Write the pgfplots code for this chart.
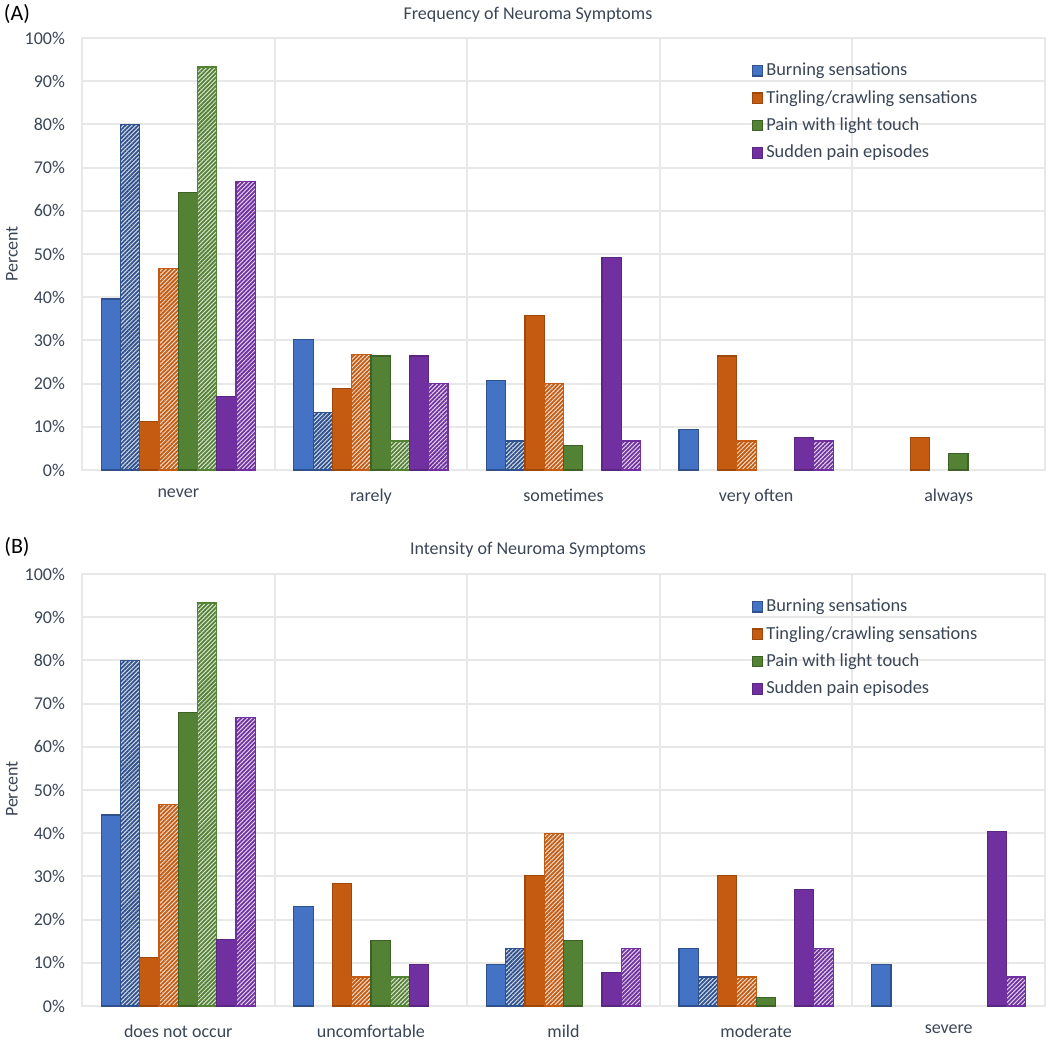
\documentclass[border=0pt]{standalone}
\usepackage{fontspec}
\setmainfont{Carlito}
\usepackage{pgfplots}
\pgfplotsset{compat=1.18}
\usetikzlibrary{patterns.meta}
\definecolor{cB}{HTML}{4472C4}\definecolor{cBd}{HTML}{2F528F}
\definecolor{cO}{HTML}{C55A11}\definecolor{cOd}{HTML}{9E480E}
\definecolor{cG}{HTML}{548235}\definecolor{cGd}{HTML}{3D6126}
\definecolor{cP}{HTML}{7030A0}\definecolor{cPd}{HTML}{5A2680}
\definecolor{gridc}{HTML}{E8E8E8}
\definecolor{textc}{HTML}{3A4556}
\pgfplotsset{
 solidbar/.style 2 args={fill=#1, draw=#2, line width=0.6pt},
 hatchbar/.style 2 args={fill=#1!18!white, draw=#2, line width=0.6pt,
   postaction={pattern={Lines[angle=45,distance=1.5pt,line width=0.9pt]}, pattern color=#1}},
 myaxis/.style={
  scale only axis, width=481.5pt, height=216pt, anchor=south west,
  ybar, bar width=0.1,
  xmin=-0.5, xmax=4.5, ymin=0, ymax=100,
  xtick={0,1,2,3,4},
  minor xtick={-0.5,0.5,1.5,2.5,3.5,4.5},
  xminorgrids=true, ymajorgrids=true,
  ytick={0,10,...,100},
  yticklabels={0\%,10\%,20\%,30\%,40\%,50\%,60\%,70\%,80\%,90\%,100\%},
  major tick length=0pt, minor tick length=0pt,
  grid style={draw=gridc, line width=1pt},
  minor grid style={draw=gridc, line width=1pt},
  axis line style={draw=gridc, line width=1pt},
  tick label style={font=\fontsize{9}{10}\selectfont, text=textc},
  yticklabel style={xshift=-5pt},
  xticklabel style={yshift=-6pt},
  legend style={at={(0.695,0.95)}, anchor=north west, draw=none, fill=none,
    font=\fontsize{9.2}{11}\selectfont, text=textc, row sep=2.8pt, inner sep=0pt,
    nodes={inner sep=1.5pt}},
  legend cell align=left,
  legend image code/.code={\draw[#1] (0pt,-2.6pt) rectangle (5.2pt,2.6pt);},
 }
}
\begin{document}
\begin{tikzpicture}
\path[use as bounding box] (0,0) rectangle (525pt,-520pt);
% Panel A
\begin{axis}[myaxis, at={(41pt,-235pt)},
  xticklabels={never,rarely,sometimes,very often,always}]
\addplot[solidbar={cB}{cBd}, bar shift=-0.35] coordinates {(0,39.6) (1,30.2) (2,20.8) (3,9.4)};
\addlegendentry{Burning sensations}
\addplot[hatchbar={cBd}{cBd}, bar shift=-0.25, forget plot] coordinates {(0,80) (1,13.3) (2,6.7)};
\addplot[solidbar={cO}{cOd}, bar shift=-0.15] coordinates {(0,11.3) (1,18.9) (2,35.8) (3,26.4) (4,7.5)};
\addlegendentry{Tingling/crawling sensations}
\addplot[hatchbar={cO}{cO}, bar shift=-0.05, forget plot] coordinates {(0,46.7) (1,26.7) (2,20) (3,6.7)};
\addplot[solidbar={cG}{cGd}, bar shift=0.05] coordinates {(0,64.2) (1,26.4) (2,5.7) (4,3.8)};
\addlegendentry{Pain with light touch}
\addplot[hatchbar={cG}{cG}, bar shift=0.15, forget plot] coordinates {(0,93.3) (1,6.7)};
\addplot[solidbar={cP}{cPd}, bar shift=0.25] coordinates {(0,17.0) (1,26.4) (2,49.1) (3,7.5)};
\addlegendentry{Sudden pain episodes}
\addplot[hatchbar={cP}{cP}, bar shift=0.35, forget plot] coordinates {(0,66.7) (1,20) (2,6.7) (3,6.7)};
\end{axis}
% Panel B
\begin{axis}[myaxis, at={(41pt,-503pt)},
  xticklabels={does not occur,uncomfortable,mild,moderate,severe}]
\addplot[solidbar={cB}{cBd}, bar shift=-0.35] coordinates {(0,44.2) (1,23.1) (2,9.6) (3,13.4) (4,9.6)};
\addlegendentry{Burning sensations}
\addplot[hatchbar={cBd}{cBd}, bar shift=-0.25, forget plot] coordinates {(0,80) (2,13.3) (3,6.7)};
\addplot[solidbar={cO}{cOd}, bar shift=-0.15] coordinates {(0,11.3) (1,28.3) (2,30.2) (3,30.2)};
\addlegendentry{Tingling/crawling sensations}
\addplot[hatchbar={cO}{cO}, bar shift=-0.05, forget plot] coordinates {(0,46.7) (1,6.7) (2,40) (3,6.7)};
\addplot[solidbar={cG}{cGd}, bar shift=0.05] coordinates {(0,67.9) (1,15.1) (2,15.1) (3,1.9)};
\addlegendentry{Pain with light touch}
\addplot[hatchbar={cG}{cG}, bar shift=0.15, forget plot] coordinates {(0,93.3) (1,6.7)};
\addplot[solidbar={cP}{cPd}, bar shift=0.25] coordinates {(0,15.4) (1,9.6) (2,7.7) (3,26.9) (4,40.4)};
\addlegendentry{Sudden pain episodes}
\addplot[hatchbar={cP}{cP}, bar shift=0.35, forget plot] coordinates {(0,66.7) (2,13.3) (3,13.3) (4,6.7)};
\end{axis}
% titles and labels
\node[font=\fontsize{9}{11}\selectfont, text=textc] at (264pt,-7.5pt) {Frequency of Neuroma Symptoms};
\node[font=\fontsize{9}{11}\selectfont, text=textc] at (264pt,-275pt) {Intensity of Neuroma Symptoms};
\node[font=\fontsize{11}{13}\selectfont, text=black] at (8.5pt,-7pt) {(A)};
\node[font=\fontsize{11}{13}\selectfont, text=black] at (8.5pt,-273.5pt) {(B)};
\node[rotate=90, font=\fontsize{9}{11}\selectfont, text=textc] at (6pt,-127pt) {Percent};
\node[rotate=90, font=\fontsize{9}{11}\selectfont, text=textc] at (6pt,-394.5pt) {Percent};
\end{tikzpicture}
\end{document}
